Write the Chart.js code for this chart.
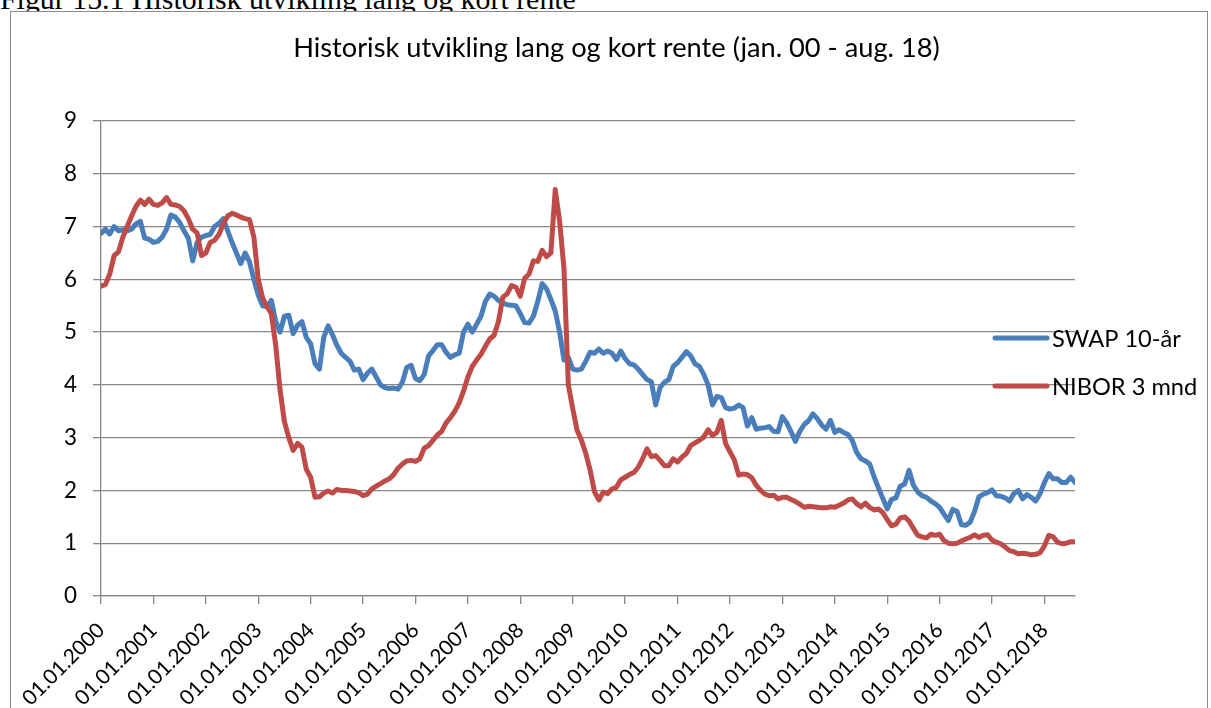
<!DOCTYPE html>
<html><head><meta charset="utf-8">
<script src="https://cdn.jsdelivr.net/npm/chart.js@4.4.1/dist/chart.umd.min.js"></script>
<style>
html,body{margin:0;padding:0;background:#fff;overflow:hidden;width:1211px;height:708px;}
#cap{position:absolute;left:0;top:-10px;font-family:"Liberation Serif","Times New Roman",serif;white-space:nowrap;color:#000;z-index:1;}
#frame{position:absolute;left:10px;top:11px;width:1198px;height:720px;border:1.5px solid #8a8a8a;box-sizing:border-box;background:#fff;z-index:2;}
#wrap{position:absolute;left:0;top:0;width:1211px;height:708px;z-index:3;}
</style></head><body>
<div id="cap">Figur 15.1 Historisk utvikling lang og kort rente</div>
<div id="frame"></div>
<div id="wrap"><canvas id="c" width="1211" height="708"></canvas></div>
<script>
const chartTitle = "Historisk utvikling lang og kort rente (jan. 00 - aug. 18)";
const seriesNames = ["SWAP 10-år", "NIBOR 3 mnd"];
const tickMonths = [0,12,24,36,48,60,72,84,96,108,120,132,144,156,168,180,192,204,216];
const tickLabels = ["01.01.2000","01.01.2001","01.01.2002","01.01.2003","01.01.2004","01.01.2005","01.01.2006","01.01.2007","01.01.2008","01.01.2009","01.01.2010","01.01.2011","01.01.2012","01.01.2013","01.01.2014","01.01.2015","01.01.2016","01.01.2017","01.01.2018"];
// monthly values, jan. 2000 - aug. 2018
const swap10 = [
6.87,6.95,6.86,7.0,6.92,6.94,6.92,6.95,7.05,7.1,6.78,6.76,
6.7,6.72,6.8,6.95,7.22,7.18,7.08,6.92,6.78,6.35,6.7,6.8,
6.83,6.85,7.0,7.06,7.15,6.92,6.7,6.5,6.3,6.5,6.33,6.0,
5.7,5.5,5.48,5.6,5.2,5.0,5.3,5.32,4.97,5.13,5.2,4.9,
4.78,4.4,4.3,4.9,5.12,4.95,4.75,4.6,4.52,4.45,4.28,4.3,
4.1,4.22,4.3,4.15,4.0,3.95,3.93,3.94,3.92,4.05,4.33,4.37,
4.12,4.08,4.2,4.55,4.65,4.76,4.76,4.62,4.52,4.57,4.6,5.0,
5.15,5.0,5.15,5.3,5.58,5.72,5.68,5.6,5.55,5.52,5.51,5.5,
5.35,5.18,5.17,5.3,5.58,5.92,5.82,5.62,5.4,5.0,4.47,4.52,
4.3,4.28,4.3,4.45,4.62,4.6,4.68,4.6,4.64,4.6,4.48,4.64,
4.5,4.4,4.38,4.3,4.2,4.1,4.06,3.62,3.95,4.05,4.1,4.35,
4.42,4.52,4.63,4.55,4.4,4.35,4.2,4.0,3.62,3.78,3.76,3.57,
3.54,3.56,3.62,3.57,3.22,3.38,3.16,3.18,3.19,3.21,3.12,3.11,
3.4,3.28,3.11,2.93,3.12,3.25,3.32,3.45,3.36,3.24,3.16,3.33,
3.1,3.15,3.1,3.06,2.95,2.72,2.6,2.56,2.5,2.26,2.05,1.85,
1.65,1.83,1.86,2.08,2.12,2.38,2.1,1.97,1.9,1.87,1.8,1.75,
1.68,1.55,1.43,1.64,1.6,1.35,1.34,1.4,1.6,1.88,1.93,1.96,
2.01,1.9,1.89,1.86,1.8,1.94,2.0,1.84,1.92,1.87,1.8,1.94,
2.15,2.32,2.22,2.22,2.15,2.15,2.25,2.15];
const nibor3m = [
5.87,5.9,6.1,6.45,6.52,6.8,7.0,7.2,7.38,7.5,7.42,7.52,
7.42,7.4,7.45,7.55,7.42,7.41,7.38,7.3,7.15,6.95,6.88,6.45,
6.5,6.7,6.74,6.85,7.05,7.2,7.25,7.22,7.18,7.15,7.13,6.8,
6.0,5.65,5.48,5.35,4.75,3.9,3.3,3.0,2.76,2.89,2.82,2.4,
2.25,1.87,1.88,1.95,1.99,1.95,2.02,2.0,2.0,1.99,1.98,1.96,
1.9,1.93,2.03,2.08,2.13,2.18,2.22,2.3,2.42,2.5,2.56,2.57,
2.55,2.6,2.8,2.85,2.95,3.05,3.12,3.28,3.38,3.5,3.66,3.88,
4.15,4.35,4.47,4.58,4.73,4.87,4.94,5.2,5.66,5.73,5.88,5.85,
5.68,6.02,6.1,6.35,6.34,6.55,6.43,6.5,7.7,7.1,6.2,4.0,
3.55,3.14,2.95,2.7,2.38,1.97,1.82,1.97,1.94,2.03,2.06,2.2,
2.25,2.3,2.34,2.44,2.6,2.79,2.64,2.66,2.57,2.47,2.47,2.6,
2.54,2.63,2.7,2.85,2.9,2.95,3.01,3.15,3.04,3.1,3.33,2.89,
2.73,2.58,2.29,2.31,2.3,2.24,2.1,2.0,1.93,1.9,1.91,1.84,
1.87,1.87,1.83,1.79,1.74,1.68,1.7,1.69,1.68,1.67,1.67,1.69,
1.68,1.72,1.76,1.82,1.84,1.75,1.69,1.76,1.68,1.63,1.65,1.58,
1.45,1.33,1.36,1.48,1.5,1.42,1.28,1.15,1.12,1.1,1.17,1.15,
1.17,1.05,1.0,0.99,1.0,1.04,1.08,1.11,1.16,1.11,1.15,1.16,
1.06,1.02,0.99,0.93,0.86,0.84,0.8,0.81,0.8,0.78,0.79,0.82,
0.95,1.15,1.12,1.02,0.99,1.0,1.03,1.03];

const colors = ["#4a7ebb", "#be4b48"];
const gridColor = "#878787";
const FONT = "Lato";

// size fonts to match measured text widths
const mc = document.createElement('canvas').getContext('2d');
function fitSize(text, target, family){ mc.font = '100px ' + family; return 100 * target / mc.measureText(text).width; }
const titleSize = fitSize(chartTitle, 647, FONT);
const legendSize = fitSize(seriesNames[0], 129, FONT);
const tickSize = fitSize(tickLabels[0], 106, FONT);
const capText = document.getElementById('cap').textContent;
const capSize = fitSize(capText, 576, '"Liberation Serif"');
const cap = document.getElementById('cap');
cap.style.fontSize = capSize + 'px';
cap.style.lineHeight = capSize + 'px';
cap.style.top = (9.5 - 0.8375 * capSize) + 'px';

const overlay = {
  id: 'overlay',
  afterDraw(chart){
    const ctx = chart.ctx;
    ctx.save();
    ctx.fillStyle = '#000';
    ctx.font = titleSize + 'px ' + FONT;
    ctx.textAlign = 'center';
    ctx.textBaseline = 'middle';
    ctx.fillText(chartTitle, 616.5, 48);
    const ys = [338, 386];
    ctx.font = legendSize + 'px ' + FONT;
    ctx.textAlign = 'left';
    seriesNames.forEach((n, i) => {
      ctx.strokeStyle = colors[i];
      ctx.lineWidth = 5;
      ctx.lineCap = 'round';
      ctx.beginPath(); ctx.moveTo(995, ys[i]); ctx.lineTo(1047, ys[i]); ctx.stroke();
      ctx.fillText(n, 1052, ys[i] + 1);
    });
    ctx.restore();
  }
};

new Chart(document.getElementById('c'), {
  type: 'line',
  data: {
    datasets: [
      { label: seriesNames[0], data: swap10.map((v, i) => ({x: i, y: v})), borderColor: colors[0], backgroundColor: colors[0], borderWidth: 5, pointRadius: 0, tension: 0, borderJoinStyle: 'round', borderCapStyle: 'round', order: 2 },
      { label: seriesNames[1], data: nibor3m.map((v, i) => ({x: i, y: v})), borderColor: colors[1], backgroundColor: colors[1], borderWidth: 5, pointRadius: 0, tension: 0, borderJoinStyle: 'round', borderCapStyle: 'round', order: 1 }
    ]
  },
  options: {
    responsive: false,
    animation: false,
    devicePixelRatio: 1,
    layout: { padding: { left: 0, right: 136, top: 121, bottom: 0 } },
    plugins: { legend: { display: false }, title: { display: false }, tooltip: { enabled: false } },
    scales: {
      x: {
        type: 'linear', min: 0, max: 223,
        afterBuildTicks: s => { s.ticks = tickMonths.map(v => ({value: v})); },
        afterFit: s => { s.height = 112; },
        ticks: { autoSkip: false, maxRotation: 45, minRotation: 45, padding: 14, color: '#000',
                 font: { family: FONT, size: tickSize },
                 callback: (v, i) => tickLabels[i] },
        grid: { drawOnChartArea: false, drawTicks: true, tickLength: 8, color: gridColor, lineWidth: 1.3 },
        border: { color: gridColor, width: 1.3 }
      },
      y: {
        min: 0, max: 9,
        afterFit: s => { s.width = 101; },
        ticks: { stepSize: 1, padding: 16, color: '#000', font: { family: FONT, size: tickSize * 1.08 } },
        grid: { color: gridColor, lineWidth: 1.3, tickLength: 8 },
        border: { color: gridColor, width: 1.3 }
      }
    }
  },
  plugins: [overlay]
});
</script>
</body></html>
